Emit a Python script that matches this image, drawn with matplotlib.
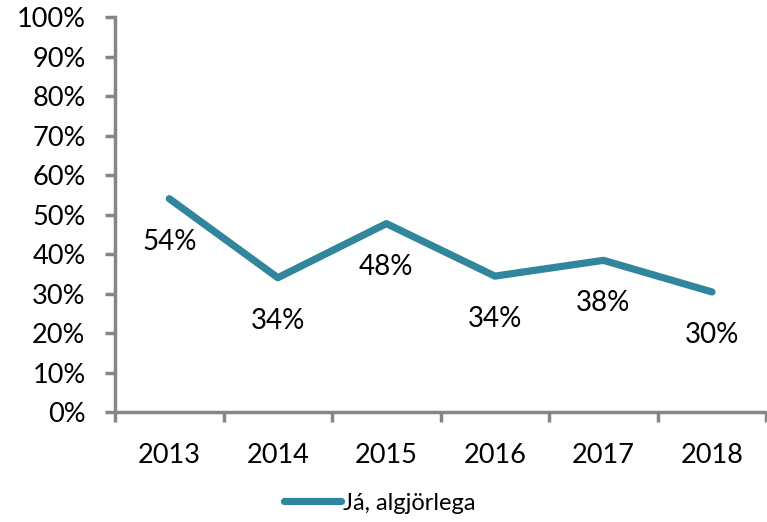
import matplotlib
import matplotlib.pyplot as plt
from matplotlib.ticker import FixedLocator, PercentFormatter

matplotlib.use('Agg')

years = ['2013', '2014', '2015', '2016', '2017', '2018']
values = [0.54, 0.34, 0.477, 0.344, 0.384, 0.304]
series_name = 'Já, algjörlega'

line_color = '#31859C'
axis_color = '#868686'

plt.rcParams['font.family'] = ['Lato', 'DejaVu Sans']

fig = plt.figure(figsize=(7.67, 5.22), dpi=100)
ax = fig.add_axes([0.150, 0.2107, 0.849, 0.7567])

x = range(len(years))
ax.plot(x, values, color=line_color, linewidth=5.2,
        solid_capstyle='round', solid_joinstyle='round', label=series_name)

for i, v in enumerate(values):
    ax.annotate(f'{v:.0%}', (i, v), xytext=(0, -31), textcoords='offset points',
                ha='center', va='center', fontsize=20, color='black')

ax.set_xlim(-0.5, len(years) - 0.5)
ax.set_ylim(0, 1)
ax.set_yticks([i / 10 for i in range(11)])
ax.yaxis.set_major_formatter(PercentFormatter(1.0, decimals=0))

ax.set_xticks(list(x))
ax.set_xticklabels(years)
ax.xaxis.set_minor_locator(FixedLocator([i - 0.5 for i in range(len(years) + 1)]))
ax.tick_params(axis='x', which='major', length=0, pad=22, labelsize=19.5)
ax.tick_params(axis='x', which='minor', length=7.2, width=2.5, color=axis_color)
ax.tick_params(axis='y', length=7.2, width=2.5, color=axis_color, labelsize=19.5, pad=14)

for side in ['top', 'right']:
    ax.spines[side].set_visible(False)
for side in ['left', 'bottom']:
    ax.spines[side].set_color(axis_color)
    ax.spines[side].set_linewidth(2.5)

fig.legend(loc='center', bbox_to_anchor=(0.495, 0.036), frameon=False,
           fontsize=17, handlelength=2.4, handletextpad=0.1)

plt.savefig('out.png', dpi=100)
